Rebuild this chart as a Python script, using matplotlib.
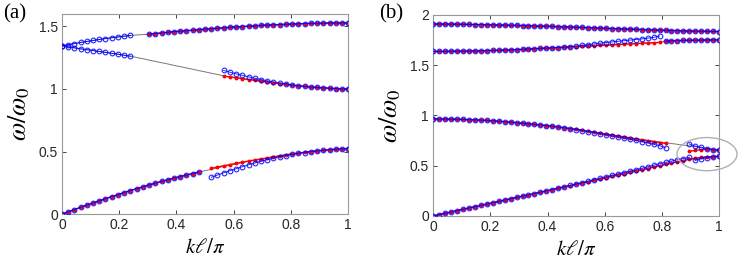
import matplotlib
matplotlib.use('Agg')
import matplotlib.pyplot as plt
from matplotlib.patches import Ellipse
from matplotlib.ticker import FuncFormatter

# ---- panel (a): k l / pi grid and bands ----
K_A = [0.000, 0.022, 0.043, 0.065, 0.087, 0.109, 0.130, 0.152, 0.174, 0.196, 0.217, 0.239,
       0.261, 0.283, 0.304, 0.326, 0.348, 0.370, 0.391, 0.413, 0.435, 0.457, 0.478, 0.500,
       0.522, 0.543, 0.565, 0.587, 0.609, 0.630, 0.652, 0.674, 0.696, 0.717, 0.739, 0.761,
       0.783, 0.804, 0.826, 0.848, 0.870, 0.891, 0.913, 0.935, 0.957, 0.978, 1.000]

A_LOW = [0, .018, .036, .054, .072, .089, .106, .123, .140, .156, .172,
         .188, .203, .218, .233, .247, .261, .274, .287, .300, .312,
         .324, .336, .347, .358, .369, .380, .391, .401, .411, .421,
         .431, .440, .449, .458, .466, .474, .481, .488, .494, .500,
         .505, .510, .514, .518, .521, .523]
A_LOW_BLUE_2 = [.294, .312, .330, .347, .363, .379, .394, .408, .422, .435, .447,
                .458, .468, .477, .485, .492, .500, .505, .510, .514, .518, .521, .523]
A_LOW_RED_2 = [.366, .376, .386, .396, .406, .415, .424, .433, .441, .449, .457,
               .466, .474, .481, .488, .494, .500, .505, .510, .514, .518, .521, .523]

A_MID = [1.345, 1.337, 1.329, 1.321, 1.314, 1.307, 1.300, 1.293, 1.285, 1.278, 1.270, 1.262,
         1.252, 1.242, 1.231, 1.221, 1.210, 1.200, 1.189, 1.179, 1.168, 1.158, 1.147, 1.137,
         1.126, 1.116, 1.105, 1.098, 1.091, 1.084, 1.077, 1.070, 1.063, 1.056, 1.049, 1.043,
         1.037, 1.031, 1.026, 1.021, 1.016, 1.012, 1.009, 1.006, 1.003, 1.001, 1.000]
A_MID_BLUE_2 = [1.148, 1.134, 1.121, 1.109, 1.097, 1.086, 1.075, 1.065, 1.056, 1.048, 1.041,
                1.031, 1.026, 1.021, 1.016, 1.012, 1.009, 1.006, 1.003, 1.001, 1.000]
A_MID_RED_2 = [1.103, 1.096, 1.089, 1.082, 1.075, 1.069, 1.063, 1.056, 1.049, 1.043, 1.037,
               1.031, 1.026, 1.021, 1.016, 1.012, 1.009, 1.006, 1.003, 1.001, 1.000]

A_TOP = [1.345, 1.354, 1.363, 1.372, 1.380, 1.388, 1.396, 1.403, 1.410, 1.416, 1.422, 1.428,
         1.432, 1.435,
         1.438, 1.443, 1.448, 1.453, 1.458, 1.462, 1.466, 1.470, 1.474, 1.478, 1.482, 1.486,
         1.489, 1.493, 1.496, 1.499, 1.502, 1.505, 1.508, 1.511, 1.513, 1.515, 1.517, 1.519,
         1.521, 1.523, 1.524, 1.525, 1.526, 1.527, 1.528, 1.528, 1.528]

# ---- panel (b) ----
K_B = [0.000, 0.021, 0.042, 0.063, 0.083, 0.104, 0.125, 0.146, 0.167, 0.188, 0.208, 0.229,
       0.250, 0.271, 0.292, 0.313, 0.333, 0.354, 0.375, 0.396, 0.417, 0.438, 0.458, 0.479,
       0.500, 0.521, 0.542, 0.563, 0.583, 0.604, 0.625, 0.646, 0.667, 0.688, 0.708, 0.729,
       0.750, 0.771, 0.792, 0.813, 0.833, 0.854, 0.875, 0.896, 0.917, 0.938, 0.958, 0.979, 1.000]

B_B1 = [0, .013, .026, .039, .053, .066, .079, .092, .105, .118,
        .131, .144, .158, .171, .184, .197, .210, .223, .236, .249,
        .262, .276, .289, .302, .315, .328, .341, .354, .367, .381,
        .394, .407, .420, .433, .446, .459, .472, .486, .499, .512,
        .525, .538, .551, .564, .574, .582, .588, .591, .593]
B_B1_BLUE_1 = [.290, .304, .318, .332, .346, .361, .375, .390, .404, .418, .432,
               .446, .460, .474, .488, .504, .519, .533, .546, .559, .571, .583]
B_B1_BLUE_2 = [.553, .569, .580, .588, .593]

B_B2 = [.965, .965, .964, .963, .962, .960, .958, .956, .953, .950,
        .946, .942, .938, .933, .928, .923, .917, .911, .905, .899,
        .893, .885, .877, .869, .861, .852, .843, .834, .825, .816,
        .807, .798, .789, .780, .771, .762, .754, .745, .737, .729,
        .721, .713, .705, .697, .689, .680, .672, .663, .655]
B_B2_RED_1 = [.806, .796, .786, .776, .766, .757, .748, .739, .730, .722]
B_B2_BLUE_1 = [.860, .850, .840, .830, .819, .808, .797, .786, .775, .764, .752,
               .740, .727, .713, .698, .678]
B_B2_BLUE_2 = [.717, .694, .683, .670, .660, .653]
B_B2_RED_2 = [.643, .652, .660, .664, .660, .653]

B_B3_RED_1 = [1.637, 1.637, 1.638, 1.638, 1.639, 1.640, 1.641, 1.642, 1.643, 1.645,
              1.647, 1.649, 1.651, 1.653, 1.655, 1.658, 1.661, 1.664, 1.667, 1.670,
              1.673, 1.676, 1.679, 1.682, 1.685, 1.688, 1.691, 1.694, 1.697, 1.700,
              1.703, 1.706, 1.709, 1.712, 1.715, 1.718, 1.721, 1.724, 1.727]
B_B3_BLUE_1 = [1.680, 1.686, 1.692, 1.698, 1.705, 1.712, 1.719, 1.726, 1.732, 1.738, 1.744,
               1.750, 1.756, 1.762, 1.769, 1.777, 1.790]
B_B3_2 = [1.740, 1.743, 1.745, 1.747, 1.748, 1.749, 1.750, 1.751, 1.752, 1.752]

B_B4 = [1.910, 1.910, 1.909, 1.909, 1.908, 1.907, 1.906, 1.905, 1.904, 1.903,
        1.902, 1.900, 1.899, 1.897, 1.896, 1.894, 1.893, 1.891, 1.889, 1.888,
        1.886, 1.884, 1.882, 1.880, 1.878, 1.876, 1.874, 1.872, 1.869, 1.867,
        1.865, 1.863, 1.861, 1.859, 1.857, 1.855, 1.853, 1.851, 1.849, 1.847,
        1.845, 1.844, 1.842, 1.840, 1.839, 1.838, 1.837, 1.836, 1.835]

GRAY = '#777777'
BLUE = '#0000ff'
RED = '#ff0000'
AXIS_COLOR = '#262626'


def theory(ax, k, w):
    ax.plot(k, w, color=GRAY, lw=0.7, zorder=1)


def red(ax, k, w):
    ax.plot(k, w, color=RED, lw=1.0, marker='o', ms=1.8, mec=RED, mfc=RED, zorder=2)


def blue(ax, k, w):
    ax.plot(k, w, color=BLUE, lw=0.7, marker='o', ms=3.4, mfc='none', mec=BLUE, mew=0.8,
            alpha=0.85, zorder=3)


def style_axes(ax, ylim, yticks):
    ax.set_xlim(0, 1)
    ax.set_ylim(*ylim)
    ax.set_xticks([0, 0.2, 0.4, 0.6, 0.8, 1])
    ax.set_yticks(yticks)
    fmt = FuncFormatter(lambda v, p: '%g' % v)
    ax.xaxis.set_major_formatter(fmt)
    ax.yaxis.set_major_formatter(fmt)
    ax.tick_params(direction='in', top=True, right=True, length=3, width=0.6,
                   labelsize=10, colors=AXIS_COLOR, pad=3)
    for s in ax.spines.values():
        s.set_color('#999999')
        s.set_linewidth(0.8)
    ax.set_xlabel(r'$k\ell/\pi$', fontsize=15, labelpad=4)
    ax.set_ylabel(r'$\omega/\omega_0$', fontsize=19, labelpad=5)


def main():
    plt.rcParams['mathtext.fontset'] = 'stix'
    plt.rcParams['font.family'] = 'Liberation Sans'
    fig = plt.figure(figsize=(7.47, 2.63), dpi=100)

    ax = fig.add_axes([0.083, 0.186, 0.383, 0.761])
    for w in (A_LOW, A_MID, A_TOP):
        theory(ax, K_A, w)
    red(ax, K_A[:23], A_LOW[:23])
    red(ax, K_A[24:], A_LOW_RED_2)
    red(ax, K_A[26:], A_MID_RED_2)
    red(ax, K_A[14:], A_TOP[14:])
    blue(ax, K_A[:23], A_LOW[:23])
    blue(ax, K_A[24:], A_LOW_BLUE_2)
    blue(ax, K_A[:12], A_MID[:12])
    blue(ax, K_A[26:], A_MID_BLUE_2)
    blue(ax, K_A[:12], A_TOP[:12])
    blue(ax, K_A[14:], A_TOP[14:])
    style_axes(ax, (0, 1.6), [0, 0.5, 1, 1.5])

    ax = fig.add_axes([0.580, 0.179, 0.3825, 0.764])
    theory(ax, K_B, B_B1)
    theory(ax, K_B, B_B2)
    theory(ax, K_B, B_B3_RED_1 + B_B3_2)
    theory(ax, K_B, B_B4)
    red(ax, K_B, B_B1)
    red(ax, K_B[:40], B_B2[:30] + B_B2_RED_1)
    red(ax, K_B[43:], B_B2_RED_2)
    red(ax, K_B[:39], B_B3_RED_1)
    red(ax, K_B[39:], B_B3_2)
    red(ax, K_B, B_B4)
    blue(ax, K_B[:44], B_B1[:22] + B_B1_BLUE_1)
    blue(ax, K_B[44:], B_B1_BLUE_2)
    blue(ax, K_B[:40], B_B2[:24] + B_B2_BLUE_1)
    blue(ax, K_B[43:], B_B2_BLUE_2)
    blue(ax, K_B[:39], B_B3_RED_1[:22] + B_B3_BLUE_1)
    blue(ax, K_B[39:], B_B3_2)
    blue(ax, K_B, B_B4)
    ax.add_patch(Ellipse((0.958, 0.615), 0.21, 0.33, fill=False, edgecolor='#b0b0b0',
                         lw=1.0, clip_on=False, zorder=4))
    style_axes(ax, (0, 2), [0, 0.5, 1, 1.5, 2])

    fig.text(0.004, 0.985, '(a)', fontsize=15, family='Liberation Serif', va='top')
    fig.text(0.507, 0.985, '(b)', fontsize=15, family='Liberation Serif', va='top')

    fig.savefig('out.png', dpi=100)


if __name__ == '__main__':
    main()
